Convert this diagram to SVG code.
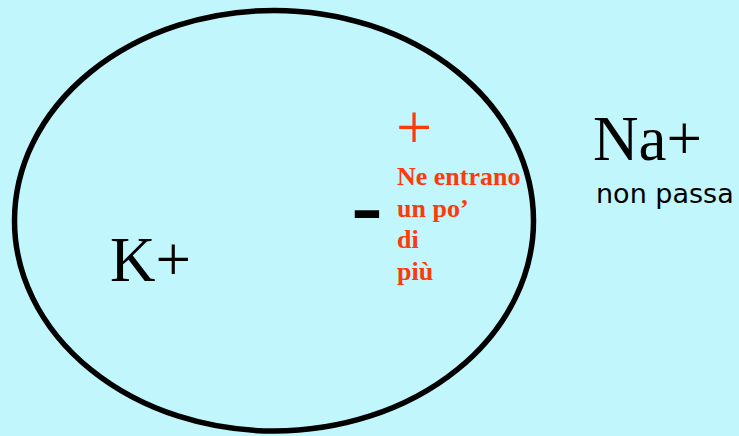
<svg xmlns="http://www.w3.org/2000/svg" width="739" height="436" viewBox="0 0 739 436">
<style>
.serif{font-family:"Liberation Serif","Times New Roman",serif;fill:#000}
.red{font-family:"Liberation Serif","Times New Roman",serif;font-weight:bold;font-size:26px;fill:#FF3A0A}
.comic{font-family:"DejaVu Sans",sans-serif;font-size:27px;fill:#000}
</style>
<rect width="739" height="436" fill="#C0F6FC"/>
<g id="cell">
<ellipse cx="274" cy="220.7" rx="259.5" ry="210.3" fill="none" stroke="#000" stroke-width="5.5"/>
</g>
<g id="k-label"><text class="serif" x="110" y="281" font-size="63">K+</text></g>
<g id="na-label">
<text class="serif" x="593" y="160" font-size="63">Na+</text>
<text class="comic" x="596" y="203">non passa</text>
</g>
<g id="charges">
<text x="396" y="149" font-family="Liberation Serif, serif" font-size="64" fill="#FF3A0A">+</text>
<text transform="translate(351,231) scale(1.5,1)" font-family="Liberation Sans, sans-serif" font-weight="bold" font-size="64" fill="#000">-</text>
</g>
<g id="note">
<text class="red" x="397" y="185">Ne entrano</text>
<text class="red" x="397" y="217">un po’</text>
<text class="red" x="397" y="248">di</text>
<text class="red" x="397" y="280">più</text>
</g>
</svg>
